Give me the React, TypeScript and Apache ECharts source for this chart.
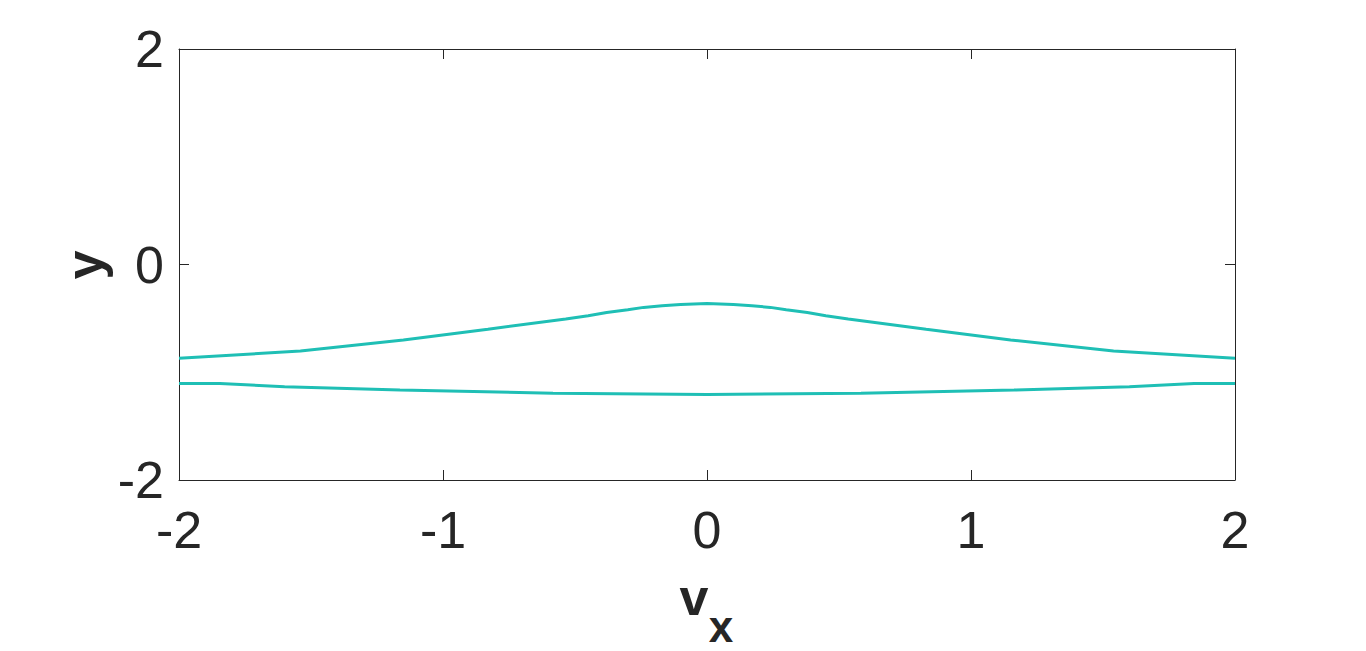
import React, { useEffect, useRef } from "react";
import * as echarts from "echarts";

const upperX = [-2, -1.54, -1.15, -0.83, -0.535, -0.45, -0.38, -0.3, -0.24, -0.17, -0.1, 0, 0.1, 0.17, 0.24, 0.3, 0.38, 0.45, 0.535, 0.83, 1.15, 1.54, 2];
const upperY = [-0.87, -0.803, -0.70, -0.60, -0.505, -0.475, -0.445, -0.42, -0.398, -0.383, -0.371, -0.362, -0.371, -0.383, -0.398, -0.42, -0.445, -0.475, -0.505, -0.60, -0.70, -0.803, -0.87];

const lowerX = [-2, -1.845, -1.6, -1.163, -0.583, 0, 0.583, 1.163, 1.6, 1.845, 2];
const lowerY = [-1.104, -1.104, -1.134, -1.165, -1.195, -1.207, -1.195, -1.165, -1.134, -1.104, -1.104];

const xTicks = [-2, -1, 0, 1, 2];
const yTicks = [-2, 0, 2];

const FONT = "'Liberation Sans', Arial, Helvetica, sans-serif";
const DARK = "#262626";
const LINE = "#1FBFB5";

export default function App() {
  const ref = useRef<HTMLDivElement>(null);
  useEffect(() => {
    if (!ref.current) return;
    const chart = echarts.init(ref.current, undefined, { renderer: "svg" });
    const axisCommon = {
      type: "value" as const,
      min: -2,
      max: 2,
      splitLine: { show: false },
      axisLine: { show: true, onZero: false, lineStyle: { color: DARK, width: 1 } },
      axisTick: { show: true, inside: true, length: 10, lineStyle: { color: DARK, width: 1 } },
    };
    chart.setOption({
      animation: false,
      backgroundColor: "#ffffff",
      grid: { left: 179, right: 131, top: 49, bottom: 171, containLabel: false },
      xAxis: [
        {
          ...axisCommon,
          position: "bottom",
          interval: 1,
          axisLabel: {
            show: true,
            margin: 24,
            fontSize: 52,
            fontFamily: FONT,
            color: DARK,
            formatter: (v: number) => (xTicks.includes(v) ? String(v) : ""),
          },
        },
        {
          ...axisCommon,
          position: "top",
          interval: 1,
          axisLabel: { show: false },
        },
      ],
      yAxis: [
        {
          ...axisCommon,
          position: "left",
          interval: 2,
          axisLabel: {
            show: true,
            margin: 15,
            fontSize: 52,
            fontFamily: FONT,
            color: DARK,
            formatter: (v: number) => (yTicks.includes(v) ? String(v) : ""),
          },
        },
        {
          ...axisCommon,
          position: "right",
          interval: 2,
          axisLabel: { show: false },
        },
      ],
      graphic: [
        {
          type: "text",
          x: 84,
          y: 265,
          rotation: Math.PI / 2,
          style: {
            text: "y",
            fontSize: 52,
            fontWeight: "bold",
            fontFamily: FONT,
            fill: DARK,
            align: "center",
            verticalAlign: "middle",
          },
        },
        {
          type: "text",
          x: 694,
          y: 597,
          style: {
            text: "v",
            fontSize: 52,
            fontWeight: "bold",
            fontFamily: FONT,
            fill: DARK,
            align: "center",
            verticalAlign: "middle",
          },
        },
        {
          type: "text",
          x: 721,
          y: 626,
          style: {
            text: "x",
            fontSize: 44,
            fontWeight: "bold",
            fontFamily: FONT,
            fill: DARK,
            align: "center",
            verticalAlign: "middle",
          },
        },
      ],
      series: [
        {
          type: "line",
          data: upperX.map((x, i) => [x, upperY[i]]),
          showSymbol: false,
          smooth: false,
          lineStyle: { color: LINE, width: 3 },
          itemStyle: { color: LINE },
          xAxisIndex: 0,
          yAxisIndex: 0,
        },
        {
          type: "line",
          data: lowerX.map((x, i) => [x, lowerY[i]]),
          showSymbol: false,
          smooth: false,
          lineStyle: { color: LINE, width: 3 },
          itemStyle: { color: LINE },
          xAxisIndex: 0,
          yAxisIndex: 0,
        },
      ],
    });
    return () => chart.dispose();
  }, []);
  return <div ref={ref} style={{ width: 1366, height: 651, margin: -8 }} />;
}
